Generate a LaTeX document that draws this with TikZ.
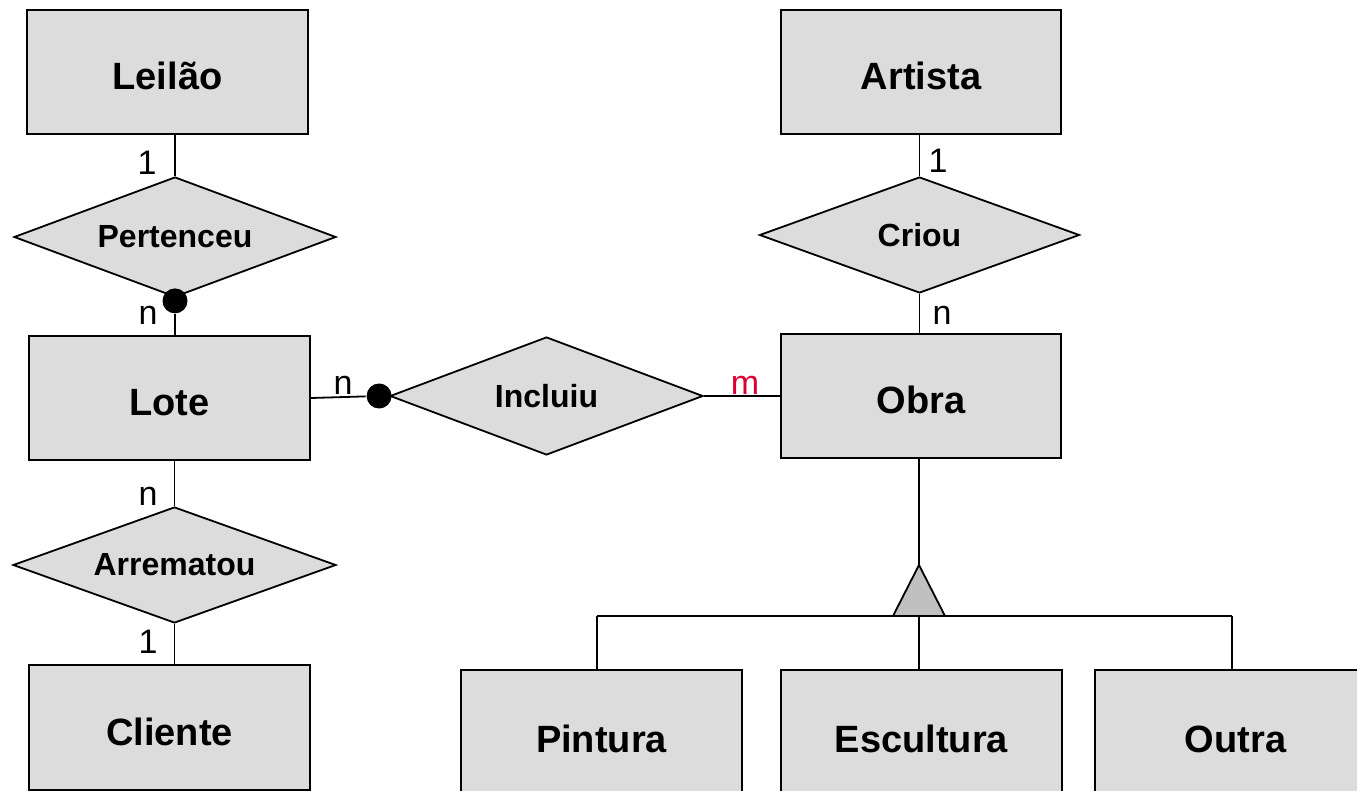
\documentclass[tikz,border=0pt]{standalone}
\usepackage{fontspec}
\setmainfont{Liberation Sans}
\usetikzlibrary{shapes.geometric}
\definecolor{boxgray}{RGB}{220,220,220}
\definecolor{trigray}{RGB}{192,192,192}
\definecolor{mred}{RGB}{220,0,50}
\newcommand{\zw}[1]{\makebox[0pt]{#1}}
\begin{document}
\begin{tikzpicture}[x=1pt,y=-1pt, line width=1.8pt,
 entity/.style={draw, fill=boxgray, rectangle, inner sep=0pt, text height=35pt, text depth=0pt, font=\fontsize{38}{44}\selectfont\bfseries},
 rel/.style={draw, fill=boxgray, diamond, inner sep=0pt, font=\fontsize{32}{38}\selectfont\bfseries},
 card/.style={inner sep=0pt, anchor=base, font=\fontsize{34}{40}\selectfont},
 dotnode/.style={circle, fill=black, draw=none, inner sep=0pt, minimum size=25pt}]
\clip (0,0) rectangle (1357,791);
\fill[white] (0,0) rectangle (1357,791);

% entities
\node[entity, minimum width=281pt, minimum height=124pt] (leilao) at (167.5,72) {Leilão};
\node[entity, minimum width=281pt, minimum height=124pt] (lote) at (169.5,398) {Lote};
\node[entity, minimum width=281pt, minimum height=125pt] (cliente) at (169.5,727.5) {Cliente};
\node[entity, minimum width=280pt, minimum height=124pt] (artista) at (921,72) {Artista};
\node[entity, minimum width=280pt, minimum height=124pt] (obra) at (921,396) {Obra};
\node[entity, minimum width=281pt, minimum height=130pt] (pintura) at (601.5,735) {Pintura};
\node[entity, minimum width=281pt, minimum height=130pt] (escultura) at (921.5,735) {Escultura};
\node[entity, minimum width=281pt, minimum height=130pt] (outra) at (1235.5,735) {Outra};

% relationships
\node[rel, minimum width=322pt, minimum height=120pt] (pert) at (175,237) {\zw{Pertenceu}};
\node[rel, minimum width=320pt, minimum height=116pt] (criou) at (919.5,235) {\zw{Criou}};
\node[rel, minimum width=313pt, minimum height=118pt] (incl) at (546.5,396) {\zw{Incluiu}};
\node[rel, minimum width=323pt, minimum height=116pt] (arr) at (174.5,565) {\zw{Arrematou}};

% connectors
\draw (leilao.south -| pert.north) -- (pert.north);
\node[dotnode] (d1) at ([yshift=-3pt]pert.south) {};
\draw (d1) -- (d1 |- lote.north);
\node[dotnode] (d2) at ([xshift=-10pt]incl.west) {};
\draw (lote.east) -- (d2);
\draw (incl.east) -- (incl.east -| obra.west);
\draw (artista.south -| criou.north) -- (criou.north);
\draw (criou.south) -- (criou.south |- obra.north);
\draw (lote.south -| arr.north) -- (arr.north);
\draw (arr.south) -- (arr.south |- cliente.north);

% specialization
\coordinate (apex) at (919,565);
\coordinate (tb) at (919,616);
\coordinate (hl) at (597,616);
\coordinate (hr) at (1232,616);
\draw (obra.south -| apex) -- (apex);
\draw (hl) -- (hr);
\draw (hl) -- (hl |- pintura.north);
\draw (tb) -- (tb |- escultura.north);
\draw (hr) -- (hr |- outra.north);
\draw[fill=trigray, line join=miter] (apex) -- ([xshift=-26pt]tb) -- ([xshift=26pt]tb) -- cycle;

% cardinalities
\node[card] (c1) at (147,175) {1};
\node[card] (c2) at (148,325) {n};
\node[card] (c3) at (343,395) {n};
\node[card, text=mred] (c4) at (745,394) {m};
\node[card] (c5) at (938,173) {1};
\node[card] (c6) at (942,325) {n};
\node[card] (c7) at (148,505) {n};
\node[card] (c8) at (148,653) {1};
\end{tikzpicture}
\end{document}
